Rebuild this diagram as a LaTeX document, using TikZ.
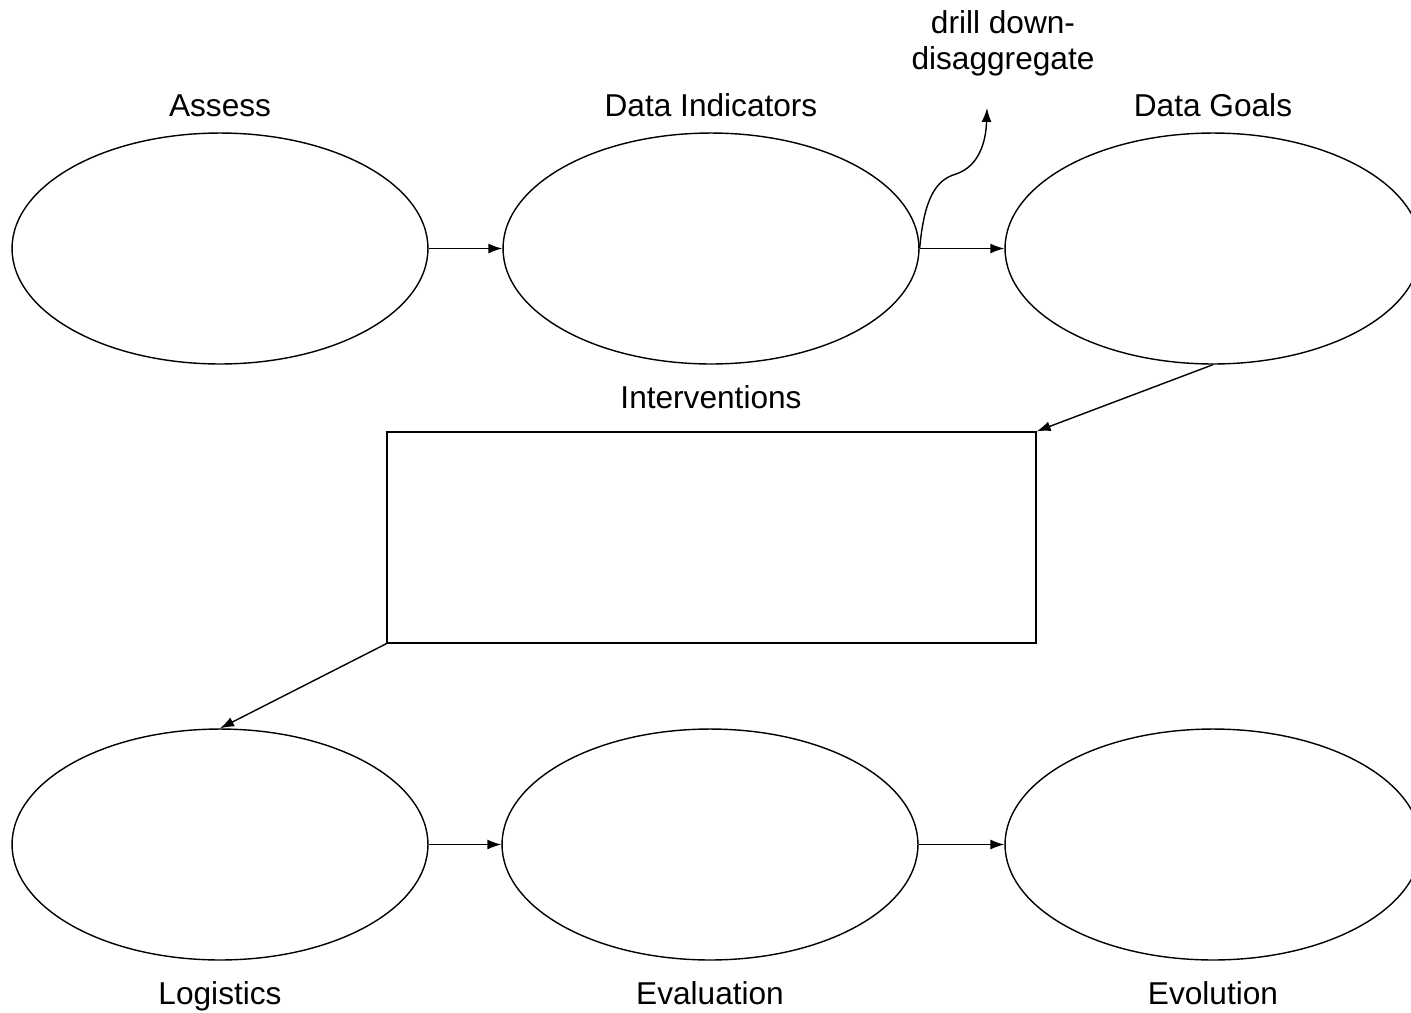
\documentclass[tikz,border=0pt]{standalone}
\usepackage{fontspec}
\setmainfont{Liberation Sans}
\usetikzlibrary{shapes.geometric}
\usetikzlibrary{arrows.meta}
\tikzset{
stagenode/.style={ellipse, draw=black!100,fill=none,line width=0.8pt, inner sep=0pt, minimum width= 8.32cm, minimum height = 4.62cm},
boxnode/.style={rectangle, draw=black!100,fill=none,line width=0.8pt, inner sep=0pt, minimum width= 12.98cm, minimum height = 4.22cm},
labelnode/.style={anchor=base, inner sep=0pt, font=\fontsize{18}{20}\selectfont},
flowarrow/.style={line width=0.8pt, -{Latex[length=2.8mm,width=2mm]}},
}
\begin{document}
\begin{tikzpicture}[x=0.02cm,y=-0.02cm]
    \useasboundingbox (0,0) rectangle (1411,1012);
    \node[stagenode] at (220,248.5) (assess) {};
    \node[stagenode] at (711,248.5) (indicators) {};
    \node[stagenode] at (1213,248.5) (goals) {};
    \node[boxnode] at (711.5,537.5) (interventions) {};
    \node[stagenode] at (220,844.5) (logistics) {};
    \node[stagenode] at (710,844.5) (evaluation) {};
    \node[stagenode] at (1213,844.5) (evolution) {};
    \node[labelnode] at (220,116) (assesslabel) {Assess};
    \node[labelnode] at (711,116) (indicatorslabel) {Data Indicators};
    \node[labelnode] at (1213,116) (goalslabel) {Data Goals};
    \node[labelnode] at (711,408) (interventionslabel) {Interventions};
    \node[labelnode] at (220,1004) (logisticslabel) {Logistics};
    \node[labelnode] at (710,1004) (evaluationlabel) {Evaluation};
    \node[labelnode] at (1213,1004) (evolutionlabel) {Evolution};
    \node[labelnode, align=center] at (1003,69) (drilllabel) {drill down-\\disaggregate};
    \coordinate (drilltip) at (987,108);
    \draw[flowarrow] (assess) to (indicators);
    \draw[flowarrow] (indicators) to (goals);
    \draw[flowarrow] (indicators.east) .. controls (924,200) and (935,180) .. (956,174) .. controls (980,166) and (986,140) .. (drilltip);
    \draw[flowarrow] (goals.south) to (interventions.north east);
    \draw[flowarrow] (interventions.south west) to (logistics.north);
    \draw[flowarrow] (logistics) to (evaluation);
    \draw[flowarrow] (evaluation) to (evolution);
\end{tikzpicture}
\end{document}
